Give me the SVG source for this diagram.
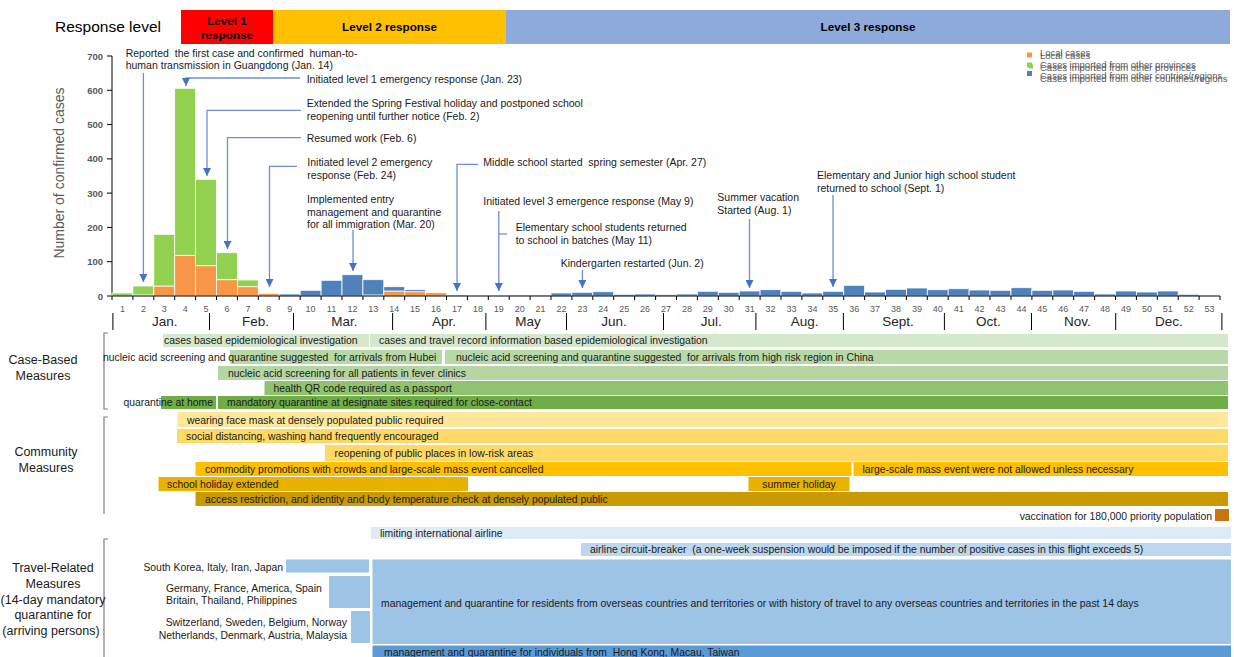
<svg xmlns="http://www.w3.org/2000/svg" width="1234" height="657" viewBox="0 0 1234 657">
<style>
text{font-family:"Liberation Sans",Arial,sans-serif;fill:#1a1a1a}
.ann{font-size:10.5px}
.bt{font-size:10.4px}
.wk{font-size:9px;fill:#595959;text-anchor:middle}
.mo{font-size:13.5px;fill:#262626;text-anchor:middle}
.yt{font-size:9.5px;fill:#595959;font-weight:bold;text-anchor:end}
.lg{font-size:9.5px;fill:#595959}
.lvl{font-size:11.7px;font-weight:bold;text-anchor:middle;fill:#000}
.grp{font-size:12.5px;text-anchor:middle;fill:#1a1a1a}
.o{fill:#F79646;stroke:#fff;stroke-width:0.8}
.g{fill:#92D050;stroke:#fff;stroke-width:0.8}
.b{fill:#4F81BD;stroke:#fff;stroke-width:0.8}
.con{fill:none;stroke:#6E8FD6;stroke-width:1.3}
.brk{fill:none;stroke:#7f7f7f;stroke-width:1.2}
</style>
<defs>
<marker id="ah" viewBox="0 0 10 10" refX="10" refY="5" markerWidth="8" markerHeight="8" markerUnits="userSpaceOnUse" orient="auto"><path d="M0,0L10,5L0,10z" fill="#4472C4"/></marker>
</defs>
<rect width="1234" height="657" fill="#fff"/>

<g id="header">
<text x="55" y="31.5" style="font-size:15.5px;fill:#000">Response level</text>
<rect x="181" y="10" width="92" height="34" fill="#FF0000"/>
<text class="lvl" x="227" y="24.5">Level 1</text>
<text class="lvl" x="227" y="39">response</text>
<rect x="273" y="10" width="233" height="34" fill="#FFC000"/>
<text class="lvl" x="389.5" y="31.2">Level 2 response</text>
<rect x="506" y="10" width="724" height="34" fill="#8EA9DB"/>
<text class="lvl" x="868" y="31.2">Level 3 response</text>
</g>

<g id="legend">
<rect x="1027" y="52.5" width="5" height="5" fill="#F79646"/>
<rect x="1027" y="62.5" width="5" height="5" fill="#92D050"/>
<rect x="1029" y="64.5" width="4" height="4" fill="#92D050"/>
<rect x="1027" y="71" width="5" height="5" fill="#4F81BD"/>
<text class="lg" x="1040" y="55.5">Local cases</text>
<text class="lg" x="1040" y="59.2">Local cases</text>
<text class="lg" x="1040" y="67.5">Cases imported from other provinces</text>
<text class="lg" x="1040" y="70.9">Cases imported from other provinces</text>
<text class="lg" x="1040" y="78.5">Cases imported from other contries/regions</text>
<text class="lg" x="1040" y="82.2">Cases imported from other countries/regions</text>
</g>

<g id="y-axis">
<text x="64" y="173" transform="rotate(-90 64 173)" style="font-size:14px;fill:#595959;text-anchor:middle">Number of confirmed cases</text>
<path d="M112,56V296M107,56H112M107,90.3H112M107,124.6H112M107,158.9H112M107,193.1H112M107,227.4H112M107,261.7H112M107,296H112" stroke="#000" stroke-width="1" fill="none"/>
<text class="yt" x="103" y="59.5">700</text>
<text class="yt" x="103" y="93.8">600</text>
<text class="yt" x="103" y="128.1">500</text>
<text class="yt" x="103" y="162.4">400</text>
<text class="yt" x="103" y="196.6">300</text>
<text class="yt" x="103" y="230.9">200</text>
<text class="yt" x="103" y="265.2">100</text>
<text class="yt" x="103" y="299.5">0</text>
</g>

<g id="bars">
<rect class="g" x="112.0" y="293" width="20.9" height="3"/>
<rect class="o" x="132.9" y="295" width="20.9" height="1"/><rect class="g" x="132.9" y="286" width="20.9" height="9"/>
<rect class="o" x="153.8" y="286" width="20.9" height="10"/><rect class="g" x="153.8" y="234.3" width="20.9" height="51.7"/>
<rect class="o" x="174.7" y="255.3" width="20.9" height="40.7"/><rect class="g" x="174.7" y="88.3" width="20.9" height="167"/>
<rect class="o" x="195.6" y="265.7" width="20.9" height="30.3"/><rect class="g" x="195.6" y="179.3" width="20.9" height="86.4"/>
<rect class="o" x="216.5" y="279.7" width="20.9" height="16.3"/><rect class="g" x="216.5" y="252.7" width="20.9" height="27"/>
<rect class="o" x="237.4" y="286.7" width="20.9" height="9.3"/><rect class="g" x="237.4" y="280" width="20.9" height="6.7"/>
<rect class="o" x="258.3" y="293.3" width="20.9" height="2.7"/>
<rect class="b" x="279.2" y="294" width="20.9" height="2"/>
<rect class="b" x="300.2" y="290.3" width="20.9" height="5.7"/>
<rect class="b" x="321.1" y="280.3" width="20.9" height="15.7"/>
<rect class="b" x="342.0" y="274.7" width="20.9" height="21.3"/>
<rect class="o" x="362.9" y="295" width="20.9" height="1"/><rect class="b" x="362.9" y="279.7" width="20.9" height="15.3"/>
<rect class="o" x="383.8" y="291" width="20.9" height="5"/><rect class="b" x="383.8" y="286.7" width="20.9" height="4.3"/>
<rect class="o" x="404.7" y="291.7" width="20.9" height="4.3"/><rect class="b" x="404.7" y="289.7" width="20.9" height="2"/>
<rect class="o" x="425.6" y="292.7" width="20.9" height="3.3"/>
<rect class="b" x="446.5" y="295" width="20.9" height="1"/>
<rect class="b" x="509.2" y="295" width="20.9" height="1"/>
<rect class="b" x="530.1" y="295" width="20.9" height="1"/>
<rect class="b" x="551.0" y="293" width="20.9" height="3"/>
<rect class="b" x="571.9" y="292.3" width="20.9" height="3.7"/>
<rect class="b" x="592.8" y="291.7" width="20.9" height="4.3"/>
<rect class="b" x="613.7" y="294.3" width="20.9" height="1.7"/>
<rect class="b" x="634.6" y="294" width="20.9" height="2"/>
<rect class="b" x="655.6" y="294.7" width="20.9" height="1.3"/>
<rect class="b" x="676.5" y="294" width="20.9" height="2"/>
<rect class="b" x="697.4" y="291.3" width="20.9" height="4.7"/>
<rect class="b" x="718.3" y="292.3" width="20.9" height="3.7"/>
<rect class="b" x="739.2" y="291" width="20.9" height="5"/>
<rect class="b" x="760.1" y="289.7" width="20.9" height="6.3"/>
<rect class="b" x="781.0" y="291.3" width="20.9" height="4.7"/>
<rect class="b" x="801.9" y="293" width="20.9" height="3"/>
<rect class="b" x="822.8" y="291.3" width="20.9" height="4.7"/>
<rect class="b" x="843.7" y="285.3" width="20.9" height="10.7"/>
<rect class="b" x="864.6" y="292" width="20.9" height="4"/>
<rect class="b" x="885.5" y="289.3" width="20.9" height="6.7"/>
<rect class="b" x="906.4" y="288" width="20.9" height="8"/>
<rect class="b" x="927.3" y="289.7" width="20.9" height="6.3"/>
<rect class="b" x="948.2" y="288.7" width="20.9" height="7.3"/>
<rect class="b" x="969.1" y="290" width="20.9" height="6"/>
<rect class="b" x="990.0" y="290.3" width="20.9" height="5.7"/>
<rect class="b" x="1011.0" y="287.7" width="20.9" height="8.3"/>
<rect class="b" x="1031.9" y="290.3" width="20.9" height="5.7"/>
<rect class="b" x="1052.8" y="290" width="20.9" height="6"/>
<rect class="b" x="1073.7" y="291.3" width="20.9" height="4.7"/>
<rect class="b" x="1094.6" y="294" width="20.9" height="2"/>
<rect class="b" x="1115.5" y="291" width="20.9" height="5"/>
<rect class="b" x="1136.4" y="292" width="20.9" height="4"/>
<rect class="b" x="1157.3" y="291" width="20.9" height="5"/>
<rect class="b" x="1178.2" y="294.3" width="20.9" height="1.7"/>
</g>

<g id="x-axis">
<path d="M112,296H1220" stroke="#000" stroke-width="1.2"/>
<path d="M112,296v4M132.9,296v4M153.8,296v4M174.7,296v4M195.6,296v4M216.5,296v4M237.4,296v4M258.3,296v4M279.2,296v4M300.2,296v4M321.1,296v4M342,296v4M362.9,296v4M383.8,296v4M404.7,296v4M425.6,296v4M446.5,296v4M467.4,296v4M488.3,296v4M509.2,296v4M530.1,296v4M551,296v4M571.9,296v4M592.8,296v4M613.7,296v4M634.6,296v4M655.6,296v4M676.5,296v4M697.4,296v4M718.3,296v4M739.2,296v4M760.1,296v4M781,296v4M801.9,296v4M822.8,296v4M843.7,296v4M864.6,296v4M885.5,296v4M906.4,296v4M927.3,296v4M948.2,296v4M969.1,296v4M990,296v4M1011,296v4M1031.9,296v4M1052.8,296v4M1073.7,296v4M1094.6,296v4M1115.5,296v4M1136.4,296v4M1157.3,296v4M1178.2,296v4M1199.1,296v4M1220,296v4" stroke="#000" stroke-width="1"/>
<text class="wk" x="122.5" y="312.2">1</text><text class="wk" x="143.4" y="312.2">2</text><text class="wk" x="164.3" y="312.2">3</text><text class="wk" x="185.2" y="312.2">4</text><text class="wk" x="206.1" y="312.2">5</text><text class="wk" x="227" y="312.2">6</text><text class="wk" x="247.9" y="312.2">7</text><text class="wk" x="268.8" y="312.2">8</text><text class="wk" x="289.7" y="312.2">9</text><text class="wk" x="310.6" y="312.2">10</text><text class="wk" x="331.5" y="312.2">11</text><text class="wk" x="352.4" y="312.2">12</text><text class="wk" x="373.3" y="312.2">13</text><text class="wk" x="394.2" y="312.2">14</text><text class="wk" x="415.1" y="312.2">15</text><text class="wk" x="436" y="312.2">16</text><text class="wk" x="456.9" y="312.2">17</text><text class="wk" x="477.9" y="312.2">18</text><text class="wk" x="498.8" y="312.2">19</text><text class="wk" x="519.7" y="312.2">20</text><text class="wk" x="540.6" y="312.2">21</text><text class="wk" x="561.5" y="312.2">22</text><text class="wk" x="582.4" y="312.2">23</text><text class="wk" x="603.3" y="312.2">24</text><text class="wk" x="624.2" y="312.2">25</text><text class="wk" x="645.1" y="312.2">26</text><text class="wk" x="666" y="312.2">27</text><text class="wk" x="686.9" y="312.2">28</text><text class="wk" x="707.8" y="312.2">29</text><text class="wk" x="728.7" y="312.2">30</text><text class="wk" x="749.7" y="312.2">31</text><text class="wk" x="770.6" y="312.2">32</text><text class="wk" x="791.5" y="312.2">33</text><text class="wk" x="812.4" y="312.2">34</text><text class="wk" x="833.3" y="312.2">35</text><text class="wk" x="854.2" y="312.2">36</text><text class="wk" x="875.1" y="312.2">37</text><text class="wk" x="896" y="312.2">38</text><text class="wk" x="916.9" y="312.2">39</text><text class="wk" x="937.8" y="312.2">40</text><text class="wk" x="958.7" y="312.2">41</text><text class="wk" x="979.6" y="312.2">42</text><text class="wk" x="1000.5" y="312.2">43</text><text class="wk" x="1021.4" y="312.2">44</text><text class="wk" x="1042.3" y="312.2">45</text><text class="wk" x="1063.2" y="312.2">46</text><text class="wk" x="1084.1" y="312.2">47</text><text class="wk" x="1105" y="312.2">48</text><text class="wk" x="1126" y="312.2">49</text><text class="wk" x="1146.9" y="312.2">50</text><text class="wk" x="1167.8" y="312.2">51</text><text class="wk" x="1188.7" y="312.2">52</text><text class="wk" x="1209.6" y="312.2">53</text>
<path d="M112.9,313V330M209.5,313V330M293.5,313V330M392.6,313V330M485.9,313V330M566.5,313V330M663.5,313V330M755.9,313V330M843.4,313V330M944.4,313V330M1031.5,313V330M1115.7,313V330M1221.9,313V330" stroke="#000" stroke-width="1"/>
<text class="mo" x="164.7" y="326">Jan.</text><text class="mo" x="255.4" y="326">Feb.</text><text class="mo" x="344.5" y="326">Mar.</text><text class="mo" x="444" y="326">Apr.</text><text class="mo" x="528" y="326">May</text><text class="mo" x="614" y="326">Jun.</text><text class="mo" x="711.2" y="326">Jul.</text><text class="mo" x="804.6" y="326">Aug.</text><text class="mo" x="897.9" y="326">Sept.</text><text class="mo" x="988.3" y="326">Oct.</text><text class="mo" x="1077.3" y="326">Nov.</text><text class="mo" x="1168.8" y="326">Dec.</text>
</g>

<g id="connectors">
<path class="con" d="M143.4,73V282" marker-end="url(#ah)"/>
<path class="con" d="M300,78H186V86" marker-end="url(#ah)"/>
<path class="con" d="M301,110.3H207V176" marker-end="url(#ah)"/>
<path class="con" d="M301,137.7H227.5V249" marker-end="url(#ah)"/>
<path class="con" d="M297,166.3H269.5V287" marker-end="url(#ah)"/>
<path class="con" d="M353,230V271" marker-end="url(#ah)"/>
<path class="con" d="M478,164.3H457V291" marker-end="url(#ah)"/>
<path class="con" d="M498.8,211V291" marker-end="url(#ah)"/>
<path class="con" d="M507,234H498.8"/>
<path class="con" d="M582.4,270V288" marker-end="url(#ah)"/>
<path class="con" d="M749.5,219V288" marker-end="url(#ah)"/>
<path class="con" d="M833,195V287" marker-end="url(#ah)"/>
</g>

<g id="annotations">
<text class="ann" x="125.7" y="56.5">Reported&#160; the first case and confirmed&#160; human-to-</text>
<text class="ann" x="125.7" y="68.8">human transmission in Guangdong (Jan. 14)</text>
<text class="ann" x="306.7" y="82.8">Initiated level 1 emergency response (Jan. 23)</text>
<text class="ann" x="306.7" y="107.1">Extended the Spring Festival holiday and postponed school</text>
<text class="ann" x="306.7" y="119.5">reopening until further notice (Feb. 2)</text>
<text class="ann" x="306.7" y="142.1">Resumed work (Feb. 6)</text>
<text class="ann" x="307.3" y="166.1">Initiated level 2 emergency</text>
<text class="ann" x="307.3" y="178.8">response (Feb. 24)</text>
<text class="ann" x="307" y="203.1">Implemented entry</text>
<text class="ann" x="307" y="215.8">management and quarantine</text>
<text class="ann" x="307" y="228.1">for all immigration (Mar. 20)</text>
<text class="ann" x="483.3" y="165.8">Middle school started&#160; spring semester (Apr. 27)</text>
<text class="ann" x="483.3" y="204.5">Initiated level 3 emergence response (May 9)</text>
<text class="ann" x="515.7" y="231.1">Elementary school students returned</text>
<text class="ann" x="515.7" y="243.8">to school in batches (May 11)</text>
<text class="ann" x="560.7" y="266.8">Kindergarten restarted (Jun. 2)</text>
<text class="ann" x="717.3" y="201.1">Summer vacation</text>
<text class="ann" x="717.3" y="213.5">Started (Aug. 1)</text>
<text class="ann" x="817" y="179.1">Elementary and Junior high school student</text>
<text class="ann" x="817" y="191.8">returned to school (Sept. 1)</text>
</g>

<g id="case-based">
<path class="brk" d="M108,333H104V409H108"/>
<text class="grp" x="43" y="363.5">Case-Based</text>
<text class="grp" x="43" y="380">Measures</text>
<rect x="163" y="334" width="206" height="13" fill="#D5E8CB"/>
<rect x="370" y="334" width="858" height="13" fill="#D5E8CB"/>
<text class="bt" x="164" y="344.2">cases based epidemiological investigation</text>
<text class="bt" x="379" y="344.2">cases and travel record information based epidemiological investigation</text>
<rect x="230" y="350" width="212" height="14" fill="#B7D8A7"/>
<rect x="445" y="350" width="783" height="14" fill="#B7D8A7"/>
<text class="bt" x="103" y="360.7">nucleic acid screening and quarantine suggested&#160; for arrivals from Hubei</text>
<text class="bt" x="456" y="360.7">nucleic acid screening and quarantine suggested&#160; for arrivals from high risk region in China</text>
<rect x="218" y="366" width="1010" height="14" fill="#B5D6A2"/>
<text class="bt" x="228" y="376.7">nucleic acid screening for all patients in fever clinics</text>
<rect x="264.5" y="381" width="963.5" height="14" fill="#8FC36F"/>
<text class="bt" x="273.5" y="391.7">health QR code required as a passport</text>
<rect x="161" y="396" width="55" height="13" fill="#70AD47"/>
<rect x="218" y="396" width="1010" height="13" fill="#70AD47"/>
<text class="bt" x="123.5" y="406.2">quarantine at home</text>
<text class="bt" x="227" y="406.2">mandatory quarantine at designate sites required for close-contact</text>
</g>

<g id="community">
<path class="brk" d="M108,417H104V514"/>
<text class="grp" x="46" y="456">Community</text>
<text class="grp" x="46" y="472">Measures</text>
<rect x="177.5" y="412" width="1050.5" height="15" fill="#FFE699"/>
<text class="bt" x="187" y="423.7">wearing face mask at densely populated public required</text>
<rect x="177" y="429" width="1051" height="14" fill="#FFD966"/>
<text class="bt" x="186" y="439.7">social distancing, washing hand frequently encouraged</text>
<rect x="325" y="445" width="903" height="16" fill="#FFD966"/>
<text class="bt" x="334.5" y="456.7">reopening of public places in low-risk areas</text>
<rect x="195.5" y="462" width="656" height="14" fill="#FFC000"/>
<rect x="853.5" y="462" width="374.5" height="14" fill="#FFC000"/>
<text class="bt" x="205" y="472.7">commodity promotions with crowds and large-scale mass event cancelled</text>
<text class="bt" x="862.5" y="472.7">large-scale mass event were not allowed unless necessary</text>
<rect x="158.5" y="477" width="309.5" height="14" fill="#E9B100"/>
<rect x="748.5" y="477" width="101" height="14" fill="#E9B100"/>
<text class="bt" x="167" y="487.7">school holiday extended</text>
<text class="bt" x="799" y="487.7" text-anchor="middle">summer holiday</text>
<rect x="195.5" y="492" width="1032.5" height="14" fill="#C99A02"/>
<text class="bt" x="205" y="502.7">access restriction, and identity and body temperature check at densely populated public</text>
<rect x="1215" y="509" width="14" height="12" fill="#C5760E"/>
<text class="bt" x="1212" y="519.7" text-anchor="end">vaccination for 180,000 priority population</text>
</g>

<g id="travel">
<path class="brk" d="M108,539H104V660"/>
<text class="grp" x="53" y="572">Travel-Related</text>
<text class="grp" x="53" y="587.5">Measures</text>
<text class="grp" x="53" y="603.5">(14-day mandatory</text>
<text class="grp" x="53" y="619">quarantine for</text>
<text class="grp" x="51" y="634.5">(arriving persons)</text>
<rect x="371" y="527" width="860" height="12" fill="#DDEBF7"/>
<text class="bt" x="380" y="536.7">limiting international airline</text>
<rect x="581" y="543" width="650" height="13" fill="#BDD7EE"/>
<text class="bt" x="590" y="553.2">airline circuit-breaker&#160; (a one-week suspension would be imposed if the number of positive cases in this flight exceeds 5)</text>
<rect x="286" y="559.5" width="83" height="13" fill="#9DC3E6"/>
<rect x="329" y="576" width="41" height="32" fill="#9DC3E6"/>
<rect x="351" y="611" width="19" height="32" fill="#9DC3E6"/>
<text class="bt" x="283" y="570.8" text-anchor="end">South Korea, Italy, Iran, Japan</text>
<text class="bt" x="166" y="592">Germany, France, America, Spain</text>
<text class="bt" x="166" y="604.4">Britain, Thailand, Philippines</text>
<text class="bt" x="347" y="626.4" text-anchor="end">Switzerland, Sweden, Belgium, Norway</text>
<text class="bt" x="347" y="639" text-anchor="end">Netherlands, Denmark, Austria, Malaysia</text>
<rect x="372.5" y="559.5" width="858.5" height="84.5" fill="#9DC3E6"/>
<text class="bt" x="381" y="606.7">management and quarantine for residents from overseas countries and territories or with history of travel to any overseas countries and territories in the past 14 days</text>
<rect x="372.5" y="645.5" width="858.5" height="14" fill="#5B9BD5"/>
<text class="bt" x="384" y="655.7">management and quarantine for individuals from&#160; Hong Kong, Macau, Taiwan</text>
</g>
</svg>
